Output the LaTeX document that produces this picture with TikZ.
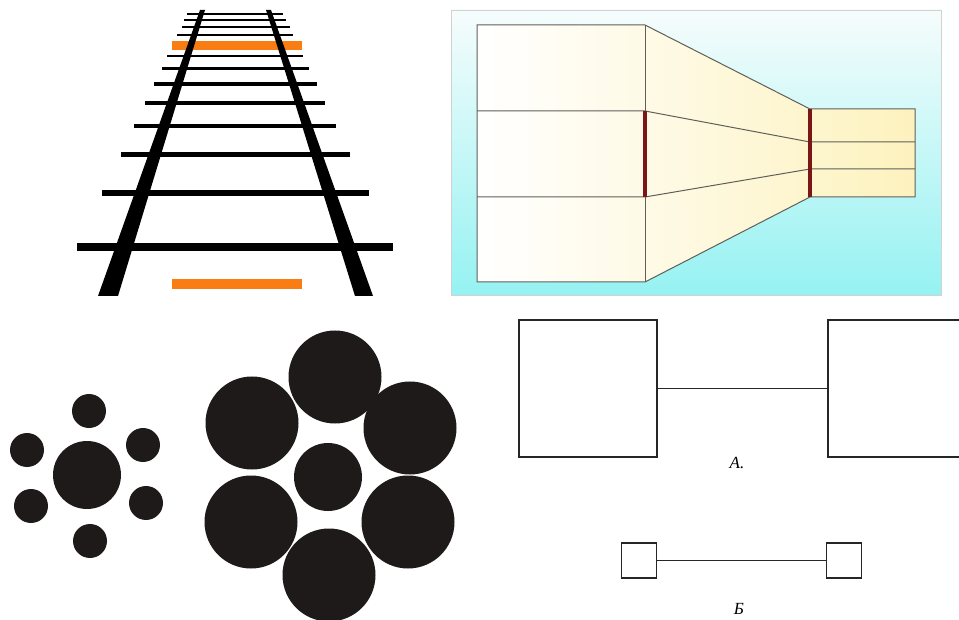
\documentclass[tikz,border=0pt]{standalone}
\usepackage{fontspec}
\setmainfont{Liberation Serif}
\definecolor{railorange}{RGB}{249,125,18}
\definecolor{blobblack}{RGB}{30,26,26}
\definecolor{barred}{RGB}{122,22,22}
\definecolor{panelcyan}{RGB}{150,242,242}
\definecolor{panelwhite}{RGB}{246,252,252}
\definecolor{panelmid}{RGB}{222,249,250}
\definecolor{cream}{RGB}{253,242,190}
\definecolor{edgegray}{RGB}{95,95,90}

\begin{document}
\begin{tikzpicture}[x=1pt, y=-1pt,
	box/.style={draw=black!85, line width=1.3pt, inner sep=0pt, fill=white},
	wire/.style={draw=black!85, line width=1.3pt},
	tag/.style={font=\itshape\fontsize{17}{17}\selectfont, inner sep=0pt}]
	\useasboundingbox (0,0) rectangle (959,620);
	\clip (0,0) rectangle (959,620);

	\fill[railorange] (172,41) rectangle (302,50);
	\fill[railorange] (172,279) rectangle (302,289);
	\foreach \y/\a/\b/\w in {14/187/283/1.6, 20/184/286/1.8, 27/182/290/2, 35/177/293/2.2, 56/167/303/2.8, 69/162/309/3, 84/154/317/3.4, 103/145/325/3.8, 126/134/336/4.4, 155/121/350/5, 193/102/369/6, 247/77/393/8.5}
		\fill[black] (\a,\y-\w/2) rectangle (\b,\y+\w/2);
	\fill[black] (200,10) -- (205,10) -- (118,296) -- (98,296) -- cycle;
	\fill[black] (266,10) -- (271,10) -- (373,296) -- (355,296) -- cycle;

	\shade[top color=panelwhite, middle color=panelmid, bottom color=panelcyan, draw=gray!35, line width=0.8pt] (451,10) rectangle (941,295);
	\shade[left color=white, right color=cream] (477,25) -- (645,25) -- (810,109) -- (915,109) -- (915,197) -- (810,197) -- (645,282) -- (477,282) -- cycle;
	\draw[edgegray, line width=1pt] (477,25) -- (645,25) -- (810,109) -- (915,109) -- (915,197) -- (810,197) -- (645,282) -- (477,282) -- cycle;
	\draw[edgegray, line width=1pt] (645,25) -- (645,282);
	\draw[edgegray, line width=1pt] (477,111) -- (645,111) -- (810,142) -- (915,142);
	\draw[edgegray, line width=1pt] (477,197) -- (645,197) -- (810,169) -- (915,169);
	\draw[barred, line width=4.5pt] (645,111) -- (645,197);
	\draw[barred, line width=4.5pt] (810,109) -- (810,197);

	\foreach \cx/\cy in {89/411, 27/450, 143/445, 31/506, 146/503, 90/541}
		\fill[blobblack] (\cx,\cy) circle[radius=17];
	\fill[blobblack] (87,475) circle[radius=34];
	\foreach \cx/\cy in {335/377, 252/423, 410/428, 251/522, 408/522, 329/575}
		\fill[blobblack] (\cx,\cy) circle[radius=46.5];
	\fill[blobblack] (328,477) circle[radius=34];

	\node[box, minimum width=138pt, minimum height=137pt] (bigL) at (588,388.5) {};
	\node[box, minimum width=138pt, minimum height=137pt] (bigR) at (897,388.5) {};
	\draw[wire] (bigL.east) -- (bigR.west);
	\node[tag] (labA) at (737,463) {A.};
	\node[box, minimum size=35pt] (smallL) at (639,560.5) {};
	\node[box, minimum size=35pt] (smallR) at (844,560.5) {};
	\draw[wire] (smallL.east) -- (smallR.west);
	\node[tag] (labB) at (739,609) {Б};
\end{tikzpicture}
\end{document}
